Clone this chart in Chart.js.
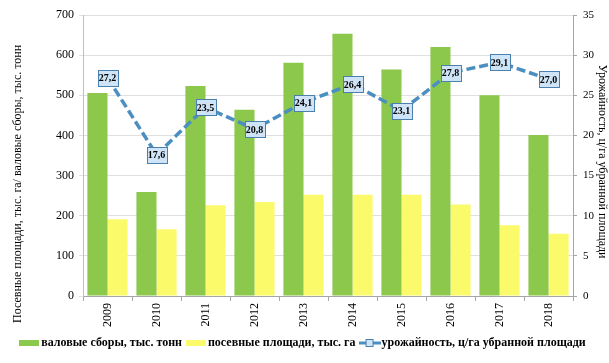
<!DOCTYPE html>
<html><head><meta charset="utf-8">
<script src="https://cdn.jsdelivr.net/npm/chart.js@4.4.1/dist/chart.umd.min.js"></script>
<style>html,body{margin:0;padding:0;background:#fff}#wrap{width:609px;height:363px}</style>
</head><body><div id="wrap"><canvas id="c" width="609" height="363"></canvas></div>
<script>
const years = ['2009','2010','2011','2012','2013','2014','2015','2016','2017','2018'];
const grossHarvest = [506, 259, 523, 464, 581, 653, 564, 620, 500, 401];
const sownArea = [191, 166, 226, 234, 252, 252, 252, 228, 176, 155];
const yieldPerHa = [27.2, 17.6, 23.5, 20.8, 24.1, 26.4, 23.1, 27.8, 29.1, 27.0];
const leftTicks = [0, 100, 200, 300, 400, 500, 600, 700];
const rightTicks = [0, 5, 10, 15, 20, 25, 30, 35];
const leftTitle = 'Посевные площади, тыс. га/ валовые сборы, тыс. тонн';
const rightTitle = 'Урожайность, ц/га убранной площади';

const GREEN = '#8cc84b', YELLOW = '#fafa6a', LINE = '#4b8ec0', BOXFILL = '#cfe5f7', BOXBORDER = '#4a80ad';
const SERIF = '"Liberation Serif","DejaVu Serif",serif';

function rectImg(color, w, h) {
  const c = document.createElement('canvas'); c.width = w; c.height = h;
  const x = c.getContext('2d'); x.fillStyle = color; x.fillRect(0, 0, w, h); return c;
}
function lineImg() {
  const c = document.createElement('canvas'); c.width = 22; c.height = 10;
  const x = c.getContext('2d');
  x.strokeStyle = LINE; x.lineWidth = 3; x.beginPath(); x.moveTo(0, 5); x.lineTo(22, 5); x.stroke();
  x.fillStyle = BOXFILL; x.fillRect(7, 1, 8, 8); x.strokeStyle = BOXBORDER; x.lineWidth = 1; x.strokeRect(7.5, 1.5, 7, 7);
  return c;
}
const legendImgs = [rectImg(GREEN, 20, 6), rectImg(YELLOW, 20, 6), lineImg()];

const labelBoxes = {
  id: 'labelBoxes',
  afterDatasetsDraw(chart) {
    const meta = chart.getDatasetMeta(2);
    const ctx = chart.ctx;
    ctx.save();
    ctx.font = 'bold 10px ' + SERIF;
    ctx.textAlign = 'center'; ctx.textBaseline = 'middle';
    meta.data.forEach((pt, i) => {
      const txt = yieldPerHa[i].toFixed(1).replace('.', ',');
      const w = 20, h = 16;
      const x = Math.round(pt.x - w / 2) + 0.5, y = Math.round(pt.y - h / 2) + 0.5;
      ctx.fillStyle = BOXFILL; ctx.fillRect(x, y, w, h);
      ctx.strokeStyle = BOXBORDER; ctx.lineWidth = 1; ctx.strokeRect(x, y, w, h);
      ctx.fillStyle = '#000'; ctx.fillText(txt, pt.x, pt.y + 1);
    });
    ctx.restore();
  }
};

const axisTitles = {
  id: 'axisTitles',
  afterDraw(chart) {
    const ctx = chart.ctx, a = chart.chartArea;
    ctx.save();
    ctx.fillStyle = '#000';
    ctx.font = '12px ' + SERIF;
    ctx.textBaseline = 'middle';
    ctx.translate(18, a.bottom + 27); ctx.rotate(-Math.PI / 2);
    ctx.textAlign = 'left'; ctx.fillText(leftTitle, 0, 0);
    ctx.restore();
    ctx.save();
    ctx.fillStyle = '#000';
    ctx.font = '12px ' + SERIF;
    ctx.textBaseline = 'middle';
    ctx.translate(602, (a.top + a.bottom) / 2 + 6); ctx.rotate(Math.PI / 2);
    ctx.textAlign = 'center'; ctx.fillText(rightTitle, 0, 0);
    ctx.restore();
  }
};

new Chart(document.getElementById('c'), {
  type: 'bar',
  data: {
    labels: years,
    datasets: [
      { label: 'валовые сборы, тыс. тонн', data: grossHarvest, backgroundColor: GREEN, yAxisID: 'y', order: 2, categoryPercentage: 0.82, barPercentage: 1.0 },
      { label: 'посевные площади, тыс. га', data: sownArea, backgroundColor: YELLOW, yAxisID: 'y', order: 2, categoryPercentage: 0.82, barPercentage: 1.0 },
      { type: 'line', label: 'урожайность, ц/га убранной площади', data: yieldPerHa, yAxisID: 'y1', order: 1,
        borderColor: LINE, borderWidth: 3.5, borderDash: [9, 4], pointRadius: 0, tension: 0, fill: false }
    ]
  },
  options: {
    responsive: false, animation: false, devicePixelRatio: 1,
    layout: { padding: { left: 0, right: 0, top: 15, bottom: 4 } },
    plugins: {
      tooltip: { enabled: false },
      legend: {
        position: 'bottom',
        labels: {
          usePointStyle: true, padding: 8, boxWidth: 20, boxHeight: 6,
          color: '#000', font: { family: SERIF, size: 12, weight: 'bold' },
          generateLabels(chart) {
            const items = Chart.defaults.plugins.legend.labels.generateLabels(chart);
            items.sort((a, b) => a.datasetIndex - b.datasetIndex);
            items.forEach(it => { it.pointStyle = legendImgs[it.datasetIndex]; });
            return items;
          }
        }
      }
    },
    scales: {
      x: {
        afterFit(s) { s.height = 33; },
        grid: { drawOnChartArea: false, offset: true, tickLength: 5, color: '#a6a6a6' },
        border: { color: '#a6a6a6' },
        ticks: { minRotation: 90, maxRotation: 90, color: '#000', font: { family: SERIF, size: 12 }, padding: 2 }
      },
      y: {
        position: 'left', min: 0, max: 700,
        afterFit(s) { s.width = 83; },
        afterBuildTicks(s) { s.ticks = leftTicks.map(v => ({ value: v })); },
        grid: { color: '#e0e0e0', tickLength: 4 },
        border: { color: '#bfbfbf' },
        ticks: { color: '#000', font: { family: SERIF, size: 12 }, padding: 5 }
      },
      y1: {
        position: 'right', min: 0, max: 35,
        afterFit(s) { s.width = 36; },
        afterBuildTicks(s) { s.ticks = rightTicks.map(v => ({ value: v })); },
        grid: { drawOnChartArea: false, tickLength: 4, color: '#a6a6a6' },
        border: { color: '#a6a6a6' },
        ticks: { color: '#000', font: { family: SERIF, size: 11 }, padding: 6 }
      }
    }
  },
  plugins: [labelBoxes, axisTitles]
});
</script></body></html>
